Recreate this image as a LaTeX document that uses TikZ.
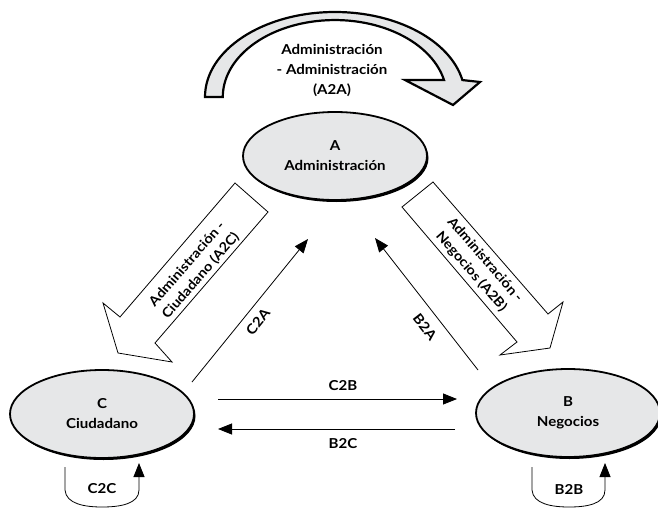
\documentclass[tikz,border=0pt]{standalone}
\usepackage{fontspec}
\newfontfamily\lbl{Lato}[FakeStretch=1.1]
\usetikzlibrary{arrows.meta,shapes.geometric}
\definecolor{lg}{HTML}{E6E7E8}
\begin{document}
\begin{tikzpicture}[x=1pt,y=-1pt,
  txt/.style={font=\lbl\bfseries\fontsize{13.7}{20}\selectfont, align=center, inner sep=0pt},
  btxt/.style={font=\lbl\bfseries\fontsize{13.3}{18}\selectfont, align=center, inner sep=0pt},
  ell/.style={ellipse, draw, line width=1.8pt, fill=lg, minimum width=184pt, minimum height=88pt, inner sep=0pt, txt},
  shd/.style={ellipse, fill=black, minimum width=184pt, minimum height=88pt, inner sep=0pt},
  arr/.style={line width=0.8pt, -{Triangle[length=14pt,width=11pt]}},
  blk/.style={draw, line width=0.8pt, fill=white, line join=miter},
  big/.style={draw, line width=2.2pt, fill=lg, line join=miter}]
\useasboundingbox (0,0) rectangle (658,508);
\fill[white] (0,0) rectangle (658,508);

% top curved arrow A2A
\draw[big] (205,97) arc[start angle=180, end angle=348.5, x radius=130, y radius=85]
  -- (480,82) -- (453,105) -- (405,80) -- (444,80)
  arc[start angle=347.2, end angle=180, x radius=112, y radius=77] -- cycle;
\node[txt] (a2a) at (332,70) {Administración\\- Administración\\(A2A)};

% ellipses
\node[shd] at (336.5,158) {};
\node[ell] (A) at (335,156) {A\\Administración};
\node[shd] at (103.5,416) {};
\node[ell] (C) at (102,414) {C\\Ciudadano};
\node[shd] at (569.5,415) {};
\node[ell] (B) at (568,413) {B\\Negocios};

% block arrows
\draw[blk] (235,183) -- (268,212) -- (155,343) -- (172,362) -- (118,353) -- (103,303) -- (120,317) -- cycle;
\node[btxt, rotate=49] (a2c) at (194,270) {Administración -\\Ciudadano (A2C)};
\draw[blk] (433,182) -- (402,207) -- (517,342) -- (500,355) -- (550,348) -- (563,302) -- (548,314) -- cycle;
\node[btxt, rotate=-49] (a2b) at (478,266) {Administración -\\Negocios (A2B)};

% thin arrows
\coordinate (c2a0) at (192,382); \coordinate (c2a1) at (308,239);
\draw[arr] (c2a0) -- (c2a1);
\node[txt, rotate=51] (c2a) at (258,322) {C2A};
\coordinate (b2a0) at (478,370); \coordinate (b2a1) at (375,238);
\draw[arr] (b2a0) -- (b2a1);
\node[txt, rotate=-52] (b2a) at (425,327) {B2A};

\coordinate (c2b0) at (218,399); \coordinate (c2b1) at (457,399);
\draw[arr] (c2b0) -- (c2b1);
\node[txt] (c2b) at (343,386) {C2B};
\coordinate (b2c0) at (455,429); \coordinate (b2c1) at (218,429);
\draw[arr] (b2c0) -- (b2c1);
\node[txt] (b2c) at (343,444) {B2C};

% loops
\coordinate (c2c0) at (65,467); \coordinate (c2c1) at (139,463);
\draw[arr] (c2c0) -- (65,490) .. controls (66,504) and (85,507) .. (102,507)
  .. controls (120,507) and (139,504) .. (139,490) -- (c2c1);
\node[txt] (c2c) at (102,489) {C2C};
\coordinate (b2b0) at (532,467); \coordinate (b2b1) at (605,463);
\draw[arr] (b2b0) -- (532,490) .. controls (533,504) and (552,507) .. (569,507)
  .. controls (587,507) and (605,504) .. (605,490) -- (b2b1);
\node[txt] (b2b) at (569,489) {B2B};
\end{tikzpicture}
\end{document}
